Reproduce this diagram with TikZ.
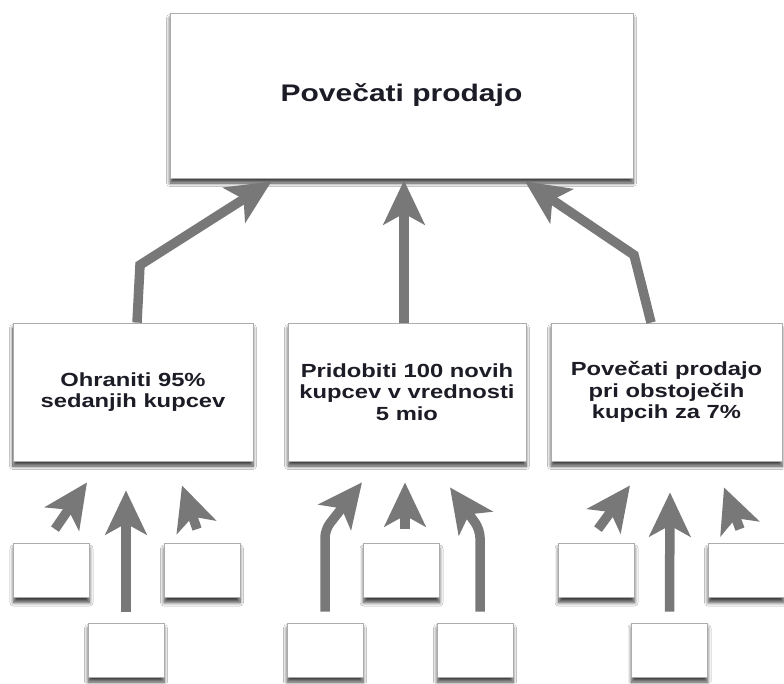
\documentclass[tikz,border=0pt]{standalone}
\usepackage{fontspec}
\newfontfamily\hfont[FakeStretch=1.25]{Liberation Sans}
\usetikzlibrary{arrows.meta,shadows.blur}
\definecolor{arrowgray}{RGB}{120,120,120}
\definecolor{boxline}{RGB}{172,172,172}
\definecolor{txt}{RGB}{28,28,38}
\begin{document}
\begin{tikzpicture}[x=1pt,y=-1pt,
  box/.style={draw=boxline, line width=0.8pt, fill=white, inner sep=0pt,
    blur shadow={shadow xshift=0pt, shadow yshift=-5pt, shadow blur radius=3.5pt, shadow blur steps=8, shadow opacity=75}},
  bigbox/.style={box, text=txt, align=center, font=\hfont\bfseries\fontsize{19}{21.5}\selectfont},
  smallbox/.style={box, minimum width=76pt, minimum height=54pt},
  arr/.style={draw=arrowgray, line width=9.5pt, rounded corners=8pt,
    -{Stealth[length=44pt, width=41pt, inset=11pt]}}
]
\useasboundingbox (0,0) rectangle (784,683);
\fill[white] (0,0) rectangle (784,683);

% nodes
\node[bigbox, minimum width=463pt, minimum height=165pt,
  font=\hfont\bfseries\fontsize{24}{28}\selectfont] (top) at (401.5,95.5) {Povečati prodajo};
\node[bigbox, minimum width=240pt, minimum height=138pt] (m1) at (133,392) {Ohraniti 95\%\\sedanjih kupcev};
\node[bigbox, minimum width=238pt, minimum height=138pt] (m2) at (407,392) {Pridobiti 100 novih\\kupcev v vrednosti\\5 mio};
\node[bigbox, minimum width=231pt, minimum height=138pt] (m3) at (666.5,392) {Povečati prodajo\\pri obstoječih\\kupcih za 7\%};

\node[smallbox] (b1) at (51.5,570.5) {};
\node[smallbox] (b2) at (202,570.5) {};
\node[smallbox] (b3) at (401.5,570.5) {};
\node[smallbox] (b4) at (596.5,570.5) {};
\node[smallbox] (b5) at (746,570.5) {};
\node[smallbox] (b6) at (126,650) {};
\node[smallbox] (b7) at (325,650) {};
\node[smallbox] (b8) at (475,650) {};
\node[smallbox] (b9) at (669.5,650) {};

% top-level arrows
\draw[arr, rounded corners=0pt] ([xshift=4pt]m1.north) -- (140,265) -- ([xshift=-130pt,yshift=-3pt]top.south);
\draw[arr] ([xshift=-3pt]m2.north) -- ([xshift=2.5pt,yshift=-2pt]top.south);
\draw[arr, rounded corners=0pt] ([xshift=-15.5pt]m3.north) -- (634,255) -- ([xshift=123.5pt,yshift=-3pt]top.south);

% left group
\draw[arr] ([xshift=3.5pt,yshift=14pt]b1.north) -- ([xshift=-46pt,yshift=-21pt]m1.south);
\draw[arr] ([yshift=11pt]b6.north) -- ([xshift=-7pt,yshift=-29pt]m1.south);
\draw[arr] ([xshift=-5pt,yshift=14pt]b2.north) -- ([xshift=49pt,yshift=-24pt]m1.south);

% middle group
\draw[arr] ([yshift=11pt]b7.north) -- ++(0,-82) -- ([xshift=-45pt,yshift=-21pt]m2.south);
\draw[arr] ([xshift=3.5pt,yshift=14pt]b3.north) -- ([xshift=-2pt,yshift=-21pt]m2.south);
\draw[arr] ([xshift=5pt,yshift=11pt]b8.north) -- ++(0,-82) -- ([xshift=43pt,yshift=-26pt]m2.south);

% right group
\draw[arr] ([xshift=1.5pt,yshift=14pt]b4.north) -- ([xshift=-36.5pt,yshift=-24pt]m3.south);
\draw[arr] ([yshift=11pt]b9.north) -- ([xshift=3.5pt,yshift=-31pt]m3.south);
\draw[arr] ([xshift=-6pt,yshift=14pt]b5.north) -- ([xshift=57.5pt,yshift=-26pt]m3.south);
\end{tikzpicture}
\end{document}
